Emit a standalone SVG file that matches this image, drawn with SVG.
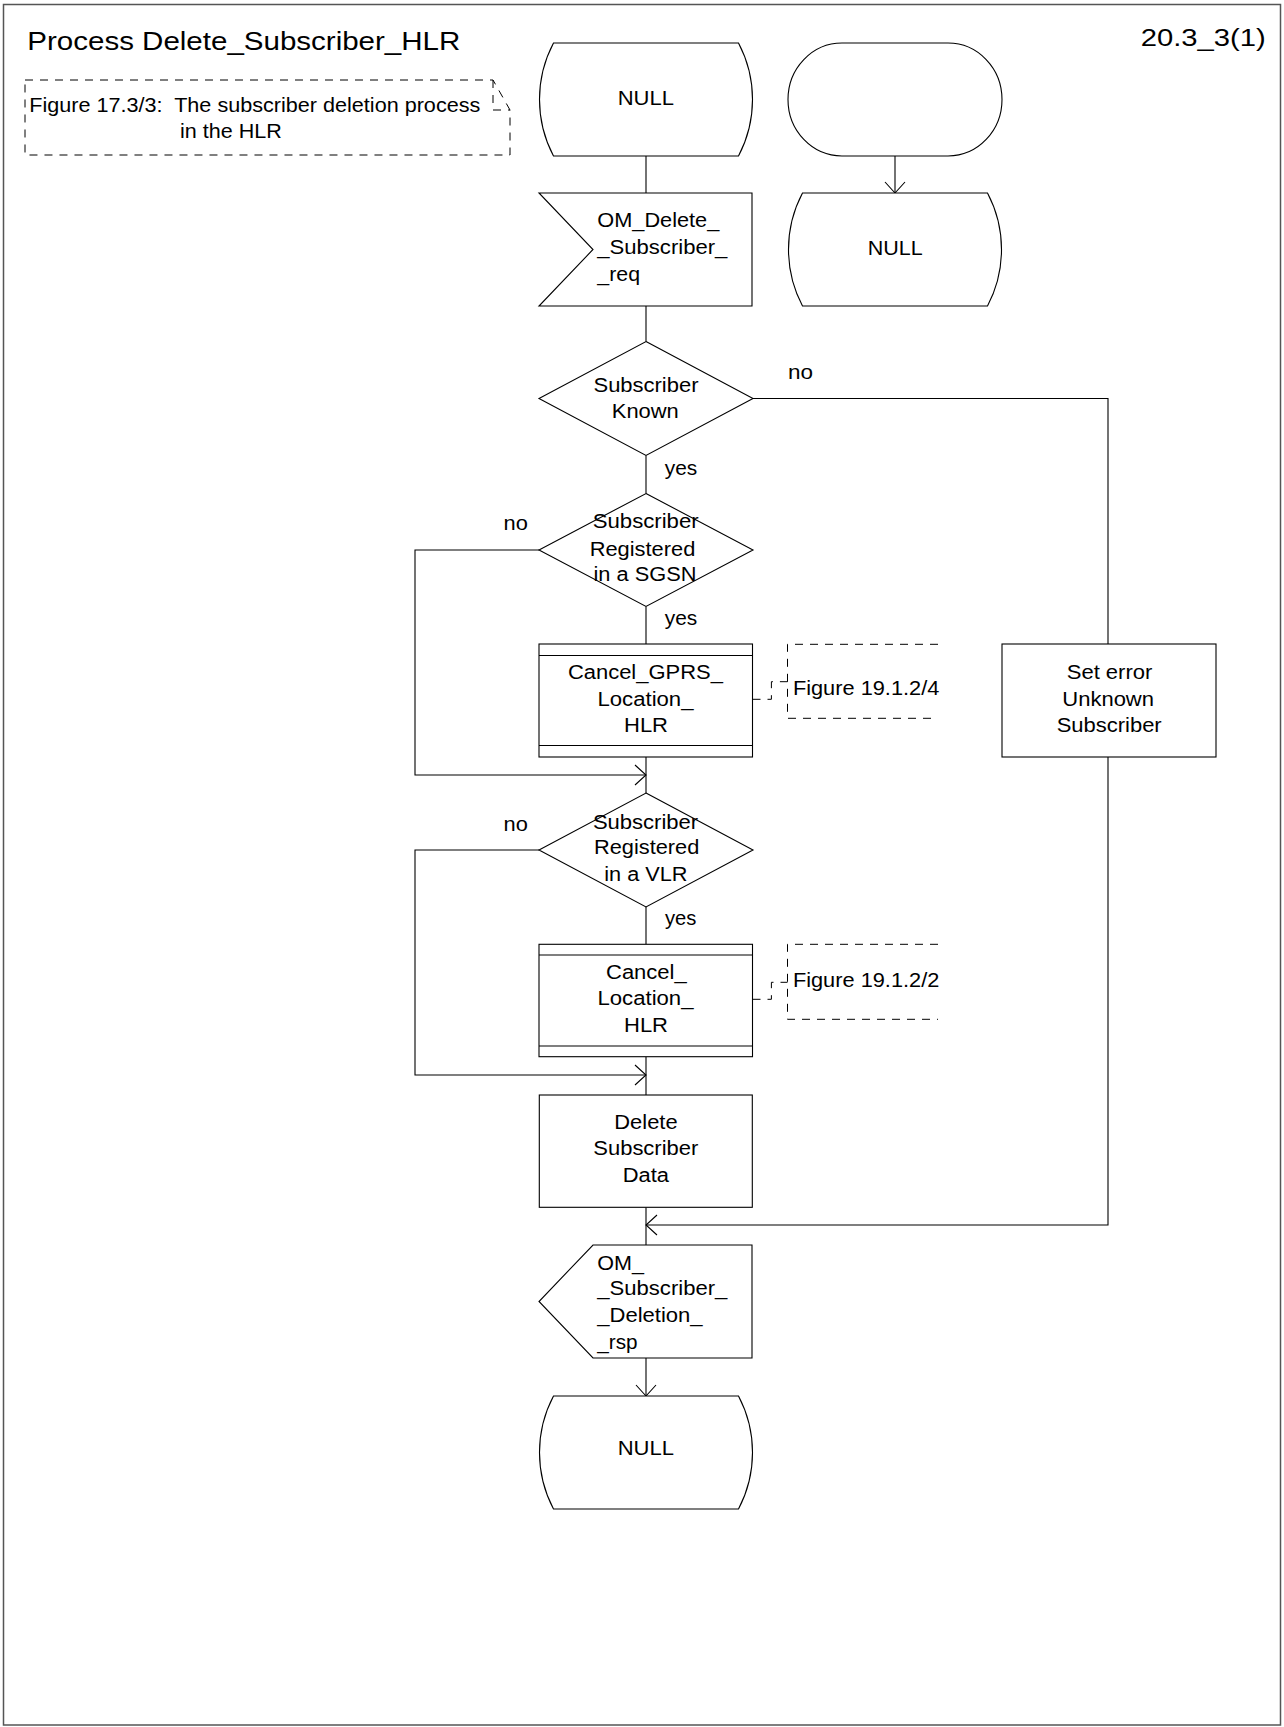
<svg xmlns="http://www.w3.org/2000/svg" width="1284" height="1727" viewBox="0 0 1284 1727">
<defs>
<style>
text{font-family:"Liberation Sans",Arial,sans-serif;fill:#000;}
.n{font-size:20px;}
.t{font-size:25px;}
.c{font-size:21px;}
.s{fill:#fff;stroke:#000;stroke-width:1.1;}
.l{fill:none;stroke:#000;stroke-width:1.1;}
.d{fill:none;stroke:#000;stroke-width:1;stroke-dasharray:8,7;}
</style>
<marker id="ah" markerUnits="userSpaceOnUse" viewBox="-13 -11 14 22" refX="0" refY="0" markerWidth="14" markerHeight="22" orient="auto">
<path d="M-11,-10 L0,0 L-11,10" fill="none" stroke="#000" stroke-width="1.1"/>
</marker>
</defs>
<rect x="0" y="0" width="1284" height="1727" fill="#fff"/>
<g id="frame">
<path d="M3.5,1725 V4.5 H1280.5 V1725 Z" fill="none" stroke="#555" stroke-width="1.5"/>
<text class="t" x="27.3" y="50" textLength="433" lengthAdjust="spacingAndGlyphs">Process Delete_Subscriber_HLR</text>
<text class="t" x="1140.7" y="46" textLength="125" lengthAdjust="spacingAndGlyphs" style="font-size:23px">20.3_3(1)</text>
</g>
<g id="comment">
<path class="d" d="M25,80 H493 L510,110 V155 H25 Z M493,80 V110 H510"/>
<text class="c" x="29.3" y="111.7" textLength="451" lengthAdjust="spacingAndGlyphs" xml:space="preserve">Figure 17.3/3:  The subscriber deletion process</text>
<text class="c" x="180" y="138.3" textLength="101.7" lengthAdjust="spacingAndGlyphs">in the HLR</text>
</g>
<g id="connectors">
<path class="l" d="M646,156 V193"/>
<path class="l" d="M646,306 V341.5"/>
<path class="l" d="M646,455.5 V493.5"/>
<path class="l" d="M646,606.5 V644"/>
<path class="l" d="M646,757 V793"/>
<path class="l" d="M646,907 V944.3"/>
<path class="l" d="M646,1056.7 V1095"/>
<path class="l" d="M646,1207.3 V1245"/>
<path class="l" d="M646,1358 V1396" marker-end="url(#ah)"/>
<path class="l" d="M895,156 V193" marker-end="url(#ah)"/>
<path class="l" d="M752.5,398.5 H1108 V644"/>
<path class="l" d="M1108,757 V1225 H646" marker-end="url(#ah)"/>
<path class="l" d="M539,550 H415 V775 H646" marker-end="url(#ah)"/>
<path class="l" d="M539,850 H415 V1075 H646" marker-end="url(#ah)"/>
<path class="d" d="M752.5,699.3 H771.4 V681.7 H787.5"/>
<path class="d" d="M752.5,999.3 H771.4 V982.3 H787.5"/>
</g>
<g id="null_top">
<path class="s" d="M553.5,43 H738.5 A121,121 0 0 1 738.5,156 H553.5 A121,121 0 0 1 553.5,43 Z"/>
<text class="n" x="617.7" y="105" textLength="56.3" lengthAdjust="spacingAndGlyphs">NULL</text>
</g>
<g id="start">
<rect class="s" x="788" y="43" width="214" height="113" rx="54" ry="56.5"/>
</g>
<g id="null_right">
<path class="s" d="M802.5,193 H987.5 A121,121 0 0 1 987.5,306 H802.5 A121,121 0 0 1 802.5,193 Z"/>
<text class="n" x="867.7" y="255" textLength="55" lengthAdjust="spacingAndGlyphs">NULL</text>
</g>
<g id="input_om_delete">
<path class="s" d="M539,193 H752 V306 H539 L593,249.5 Z"/>
<text class="n" x="597.3" y="227" textLength="122" lengthAdjust="spacingAndGlyphs">OM_Delete_</text>
<text class="n" x="597.3" y="254" textLength="130" lengthAdjust="spacingAndGlyphs">_Subscriber_</text>
<text class="n" x="597.3" y="281" textLength="42.7" lengthAdjust="spacingAndGlyphs">_req</text>
</g>
<g id="dec_known">
<path class="s" d="M646,341.5 L753,398.5 L646,455.5 L539,398.5 Z"/>
<text class="n" x="593.5" y="392.3" textLength="105" lengthAdjust="spacingAndGlyphs">Subscriber</text>
<text class="n" x="611.8" y="418.3" textLength="67" lengthAdjust="spacingAndGlyphs">Known</text>
<text class="n" x="788" y="379" textLength="25" lengthAdjust="spacingAndGlyphs">no</text>
<text class="n" x="664.7" y="475" textLength="32.5" lengthAdjust="spacingAndGlyphs">yes</text>
</g>
<g id="dec_sgsn">
<path class="s" d="M646,493.5 L753,550 L646,606.5 L539,550 Z"/>
<text class="n" x="592.7" y="527.7" textLength="106" lengthAdjust="spacingAndGlyphs">Subscriber</text>
<text class="n" x="589.7" y="556" textLength="105.6" lengthAdjust="spacingAndGlyphs">Registered</text>
<text class="n" x="593.5" y="580.7" textLength="103" lengthAdjust="spacingAndGlyphs">in a SGSN</text>
<text class="n" x="503.6" y="530" textLength="24.3" lengthAdjust="spacingAndGlyphs">no</text>
<text class="n" x="664.7" y="625" textLength="32.5" lengthAdjust="spacingAndGlyphs">yes</text>
</g>
<g id="proc_cancel_gprs">
<rect class="s" x="539" y="644" width="213.5" height="113"/>
<path class="l" d="M539,655.5 H752.5 M539,745.5 H752.5"/>
<text class="n" x="567.9" y="679" textLength="155" lengthAdjust="spacingAndGlyphs">Cancel_GPRS_</text>
<text class="n" x="597.5" y="706" textLength="96" lengthAdjust="spacingAndGlyphs">Location_</text>
<text class="n" x="624" y="731.7" textLength="44" lengthAdjust="spacingAndGlyphs">HLR</text>
</g>
<g id="ann_gprs">
<path class="d" d="M938,644.3 H787.5 V718.3 H938"/>
<text class="n" x="792.9" y="695" textLength="146.4" lengthAdjust="spacingAndGlyphs">Figure 19.1.2/4</text>
</g>
<g id="dec_vlr">
<path class="s" d="M646,793 L753,850 L646,907 L539,850 Z"/>
<text class="n" x="592.9" y="829.3" textLength="105.3" lengthAdjust="spacingAndGlyphs">Subscriber</text>
<text class="n" x="594" y="853.5" textLength="105.3" lengthAdjust="spacingAndGlyphs">Registered</text>
<text class="n" x="604.3" y="881" textLength="83.2" lengthAdjust="spacingAndGlyphs">in a VLR</text>
<text class="n" x="503.6" y="830.7" textLength="24.3" lengthAdjust="spacingAndGlyphs">no</text>
<text class="n" x="665" y="925" textLength="31.4" lengthAdjust="spacingAndGlyphs">yes</text>
</g>
<g id="proc_cancel_location">
<rect class="s" x="539" y="944.3" width="213.5" height="112.4"/>
<path class="l" d="M539,955 H752.5 M539,1046 H752.5"/>
<text class="n" x="606" y="979.3" textLength="80.7" lengthAdjust="spacingAndGlyphs">Cancel_</text>
<text class="n" x="597.5" y="1005" textLength="96" lengthAdjust="spacingAndGlyphs">Location_</text>
<text class="n" x="624" y="1031.7" textLength="44" lengthAdjust="spacingAndGlyphs">HLR</text>
</g>
<g id="ann_location">
<path class="d" d="M938,944.3 H787.5 V1019.3 H938"/>
<text class="n" x="792.9" y="986.7" textLength="146.4" lengthAdjust="spacingAndGlyphs">Figure 19.1.2/2</text>
</g>
<g id="task_delete">
<rect class="s" x="539.3" y="1095" width="213" height="112.3"/>
<text class="n" x="614.3" y="1129.3" textLength="63.3" lengthAdjust="spacingAndGlyphs">Delete</text>
<text class="n" x="593.3" y="1155" textLength="105" lengthAdjust="spacingAndGlyphs">Subscriber</text>
<text class="n" x="622.7" y="1181.7" textLength="46.3" lengthAdjust="spacingAndGlyphs">Data</text>
</g>
<g id="task_set_error">
<rect class="s" x="1002" y="644" width="214" height="113"/>
<text class="n" x="1066.7" y="679" textLength="85.7" lengthAdjust="spacingAndGlyphs">Set error</text>
<text class="n" x="1062.3" y="705.7" textLength="91.7" lengthAdjust="spacingAndGlyphs">Unknown</text>
<text class="n" x="1056.7" y="731.7" textLength="105" lengthAdjust="spacingAndGlyphs">Subscriber</text>
</g>
<g id="output_om_rsp">
<path class="s" d="M593,1245 H752 V1358 H593 L539,1301.5 Z"/>
<text class="n" x="597.3" y="1270" textLength="46.7" lengthAdjust="spacingAndGlyphs">OM_</text>
<text class="n" x="597.3" y="1295" textLength="130" lengthAdjust="spacingAndGlyphs">_Subscriber_</text>
<text class="n" x="597.3" y="1322" textLength="105.3" lengthAdjust="spacingAndGlyphs">_Deletion_</text>
<text class="n" x="597.3" y="1349" textLength="40.3" lengthAdjust="spacingAndGlyphs">_rsp</text>
</g>
<g id="null_bottom">
<path class="s" d="M553.5,1396 H738.5 A121,121 0 0 1 738.5,1509 H553.5 A121,121 0 0 1 553.5,1396 Z"/>
<text class="n" x="617.7" y="1455" textLength="56.3" lengthAdjust="spacingAndGlyphs">NULL</text>
</g>
</svg>
